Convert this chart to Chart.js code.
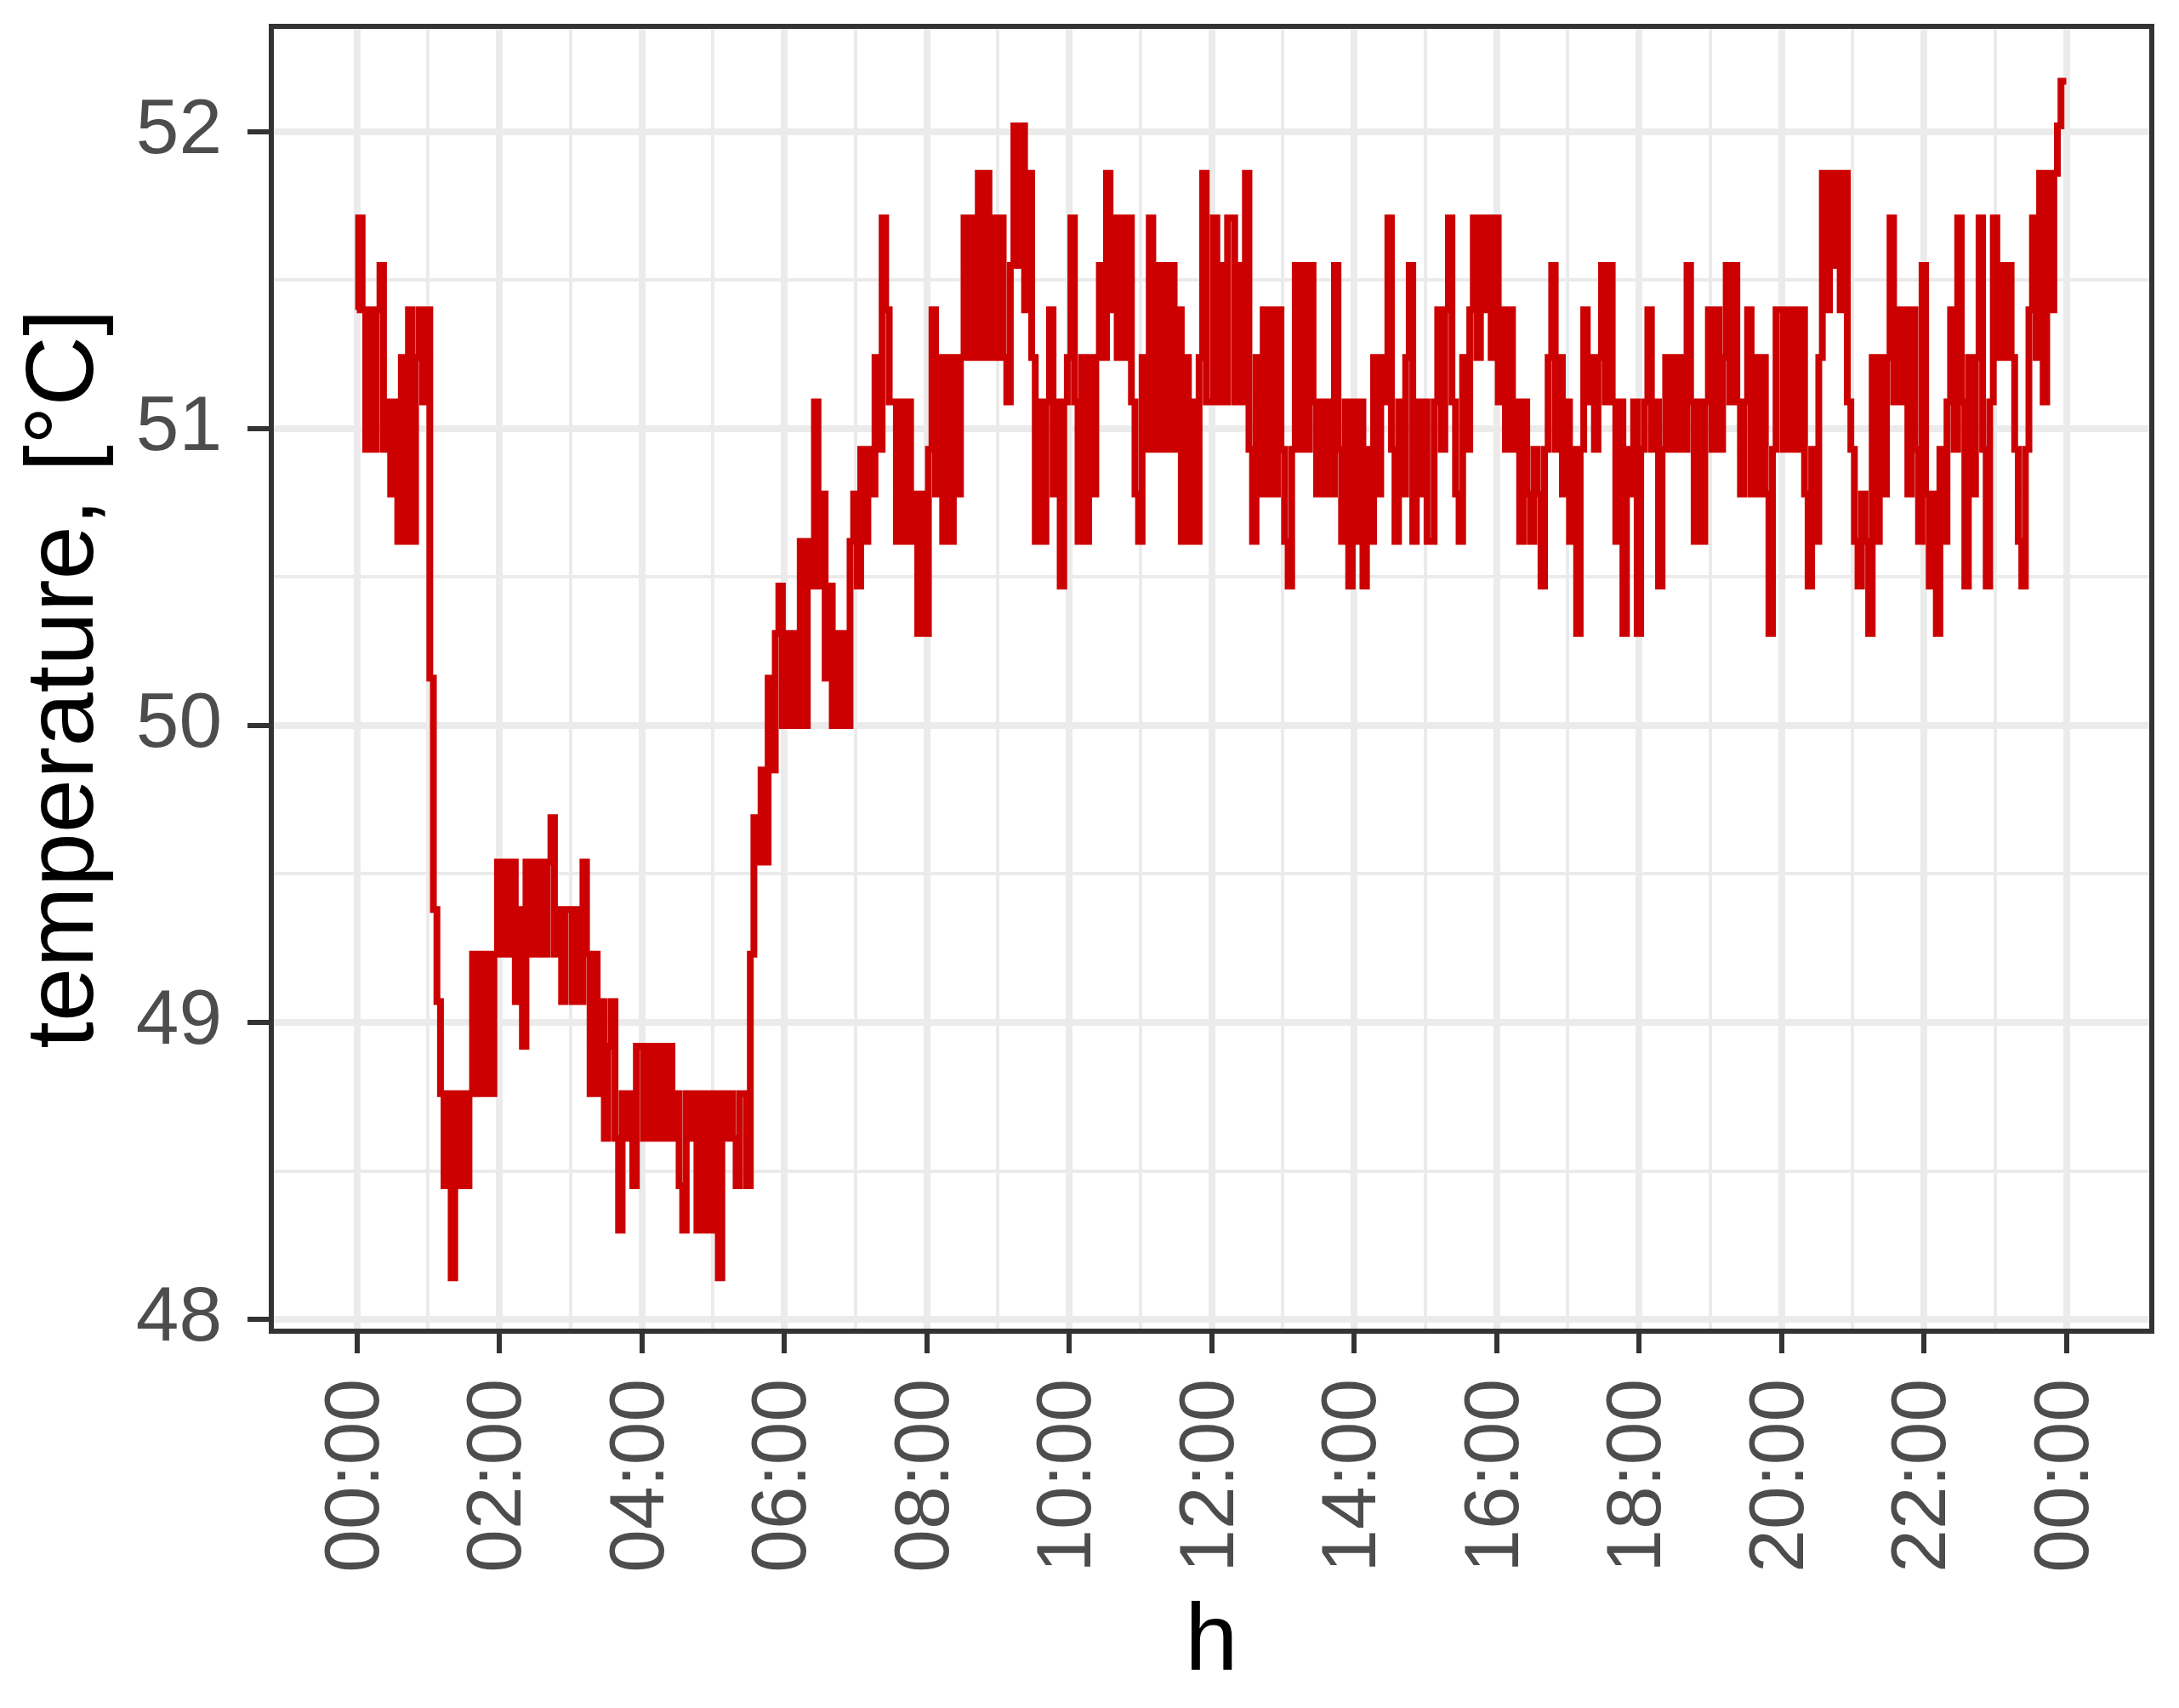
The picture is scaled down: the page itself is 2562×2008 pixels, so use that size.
<!DOCTYPE html>
<html>
<head>
<meta charset="utf-8">
<script src="https://cdn.jsdelivr.net/npm/chart.js@4.4.0/dist/chart.umd.min.js"></script>
<style>
  html, body { margin: 0; padding: 0; background: #fff; }
  #wrap { width: 2562px; height: 2008px; }
</style>
</head>
<body>
<div id="wrap"><canvas id="tempChart" width="2562" height="2008"></canvas></div>
<script>
// one reading every 3 minutes, 00:00 -> 24:00
const sampleMinutes = 3;

const temp00to06 = [
  51.40,51.71,51.40,50.93,51.40,50.93,51.40,51.55,50.93,51.09,50.78,51.09,50.62,51.24,50.62,51.40,50.62,51.24,51.40,51.09,
  51.40,50.16,49.38,49.07,48.76,48.45,48.76,48.14,48.76,48.45,48.76,48.45,48.76,49.23,48.76,49.23,48.76,49.23,48.76,49.23,
  49.54,49.23,49.54,49.23,49.54,49.07,49.38,48.92,49.54,49.23,49.54,49.23,49.54,49.23,49.54,49.69,49.23,49.38,49.07,49.38,
  49.38,49.07,49.38,49.07,49.54,49.23,48.76,49.23,48.76,49.07,48.61,48.92,49.07,48.61,48.30,48.76,48.61,48.76,48.45,48.92,
  48.92,48.61,48.92,48.61,48.92,48.61,48.92,48.61,48.92,48.61,48.76,48.45,48.30,48.76,48.61,48.76,48.30,48.76,48.30,48.76,
  48.30,48.76,48.14,48.76,48.61,48.76,48.61,48.45,48.76,48.76,48.45,49.23,49.69,49.54,49.85,49.54,50.16,49.85,50.31,50.47
];
const temp06to12 = [
  50.00,50.31,50.00,50.31,50.00,50.62,50.00,50.62,50.47,51.09,50.47,50.78,50.16,50.47,50.00,50.31,50.00,50.31,50.00,50.62,
  50.78,50.47,50.93,50.62,50.93,50.78,51.24,50.93,51.71,51.40,51.09,51.09,50.62,51.09,50.62,51.09,50.62,50.78,50.31,50.78,
  50.31,50.93,51.40,50.78,51.24,50.62,51.24,50.62,51.24,50.78,51.24,51.71,51.24,51.71,51.24,51.86,51.24,51.86,51.24,51.71,
  51.24,51.71,51.24,51.09,51.55,52.02,51.55,52.02,51.40,51.86,51.24,50.62,51.09,50.62,51.09,51.40,50.78,51.09,50.47,51.09,
  51.24,51.71,51.09,50.62,51.24,50.62,51.24,50.78,51.24,51.55,51.24,51.86,51.40,51.71,51.24,51.71,51.24,51.71,51.09,50.78,
  50.62,51.24,50.93,51.71,50.93,51.55,50.93,51.55,50.93,51.55,50.93,51.40,50.62,51.24,50.62,51.09,50.62,51.24,51.86,51.09
];
const temp12to18 = [
  51.09,51.71,51.09,51.55,51.09,51.71,51.71,51.09,51.55,51.09,51.86,50.93,50.62,51.24,50.78,51.40,50.78,51.40,50.78,51.40,
  50.93,50.62,50.47,50.93,51.55,50.93,51.55,50.93,51.55,51.09,50.78,51.09,50.78,51.09,50.78,51.55,50.93,50.62,51.09,50.47,
  51.09,50.62,51.09,50.47,50.93,50.62,51.24,50.78,51.24,51.09,51.71,50.93,50.62,51.09,50.78,51.24,51.55,50.62,51.09,50.78,
  51.09,50.62,50.62,51.09,51.40,50.93,51.40,51.71,51.09,50.78,50.62,51.24,50.93,51.40,51.71,51.24,51.71,51.40,51.71,51.24,
  51.71,51.09,51.40,50.93,51.40,50.93,51.09,50.62,51.09,50.78,50.62,50.93,50.78,50.47,50.93,51.24,51.55,50.93,51.24,50.78,
  51.09,50.62,50.93,50.31,50.93,51.40,51.09,51.24,50.93,51.24,51.55,51.09,51.55,51.09,50.62,51.09,50.31,50.93,50.78,51.09
];
const temp18to24 = [
  50.31,50.93,51.09,51.40,50.93,51.09,50.47,50.93,51.24,50.93,51.24,50.93,51.24,50.93,51.55,51.09,50.62,51.09,50.62,51.09,
  51.40,50.93,51.40,50.93,51.24,51.55,51.09,51.55,51.09,50.78,51.09,51.40,50.78,51.24,50.78,51.24,50.78,50.31,50.93,51.40,
  51.40,50.93,51.40,50.93,51.40,50.93,51.40,50.78,50.47,50.93,50.62,51.24,51.86,51.40,51.86,51.55,51.86,51.40,51.86,51.09,
  50.93,50.62,50.47,50.78,50.62,50.31,51.24,50.62,51.24,50.78,51.24,51.71,51.09,51.40,51.09,51.40,50.78,51.40,50.93,50.62,
  51.55,50.78,50.47,50.78,50.31,50.93,50.62,51.09,51.40,50.93,51.71,51.09,50.47,51.24,50.78,51.24,51.71,50.93,50.47,51.09,
  51.71,51.24,51.55,51.24,51.55,51.24,50.93,50.62,50.47,50.93,51.40,51.71,51.24,51.86,51.09,51.86,51.40,51.86,52.02,52.17,52.17
];

const xMajorHours = [0, 2, 4, 6, 8, 10, 12, 14, 16, 18, 20, 22, 24];
const xMajorLabels = ['00:00', '02:00', '04:00', '06:00', '08:00', '10:00', '12:00',
                      '14:00', '16:00', '18:00', '20:00', '22:00', '00:00'];
const xMinorHours = [1, 3, 5, 7, 9, 11, 13, 15, 17, 19, 21, 23];
const yMajorTicks = [48, 49, 50, 51, 52];
const yMinorTicks = [48.5, 49.5, 50.5, 51.5];

const temperature = [].concat(temp00to06, temp06to12, temp12to18, temp18to24);
const points = temperature.map((t, i) => ({ x: i * sampleMinutes / 60, y: t }));

const FONT = "'Liberation Sans', Arial, sans-serif";
const TICK_DARK = '#333333';
const GRID = '#EBEBEB';

const panelBorder = {
    id: 'panelBorder',
    afterDatasetsDraw(chart) {
        const { ctx, chartArea: a } = chart;
        ctx.save();
        ctx.strokeStyle = TICK_DARK;
        ctx.lineWidth = 6;
        ctx.strokeRect(a.left, a.top, a.right - a.left, a.bottom - a.top);
        ctx.restore();
    }
};

new Chart(document.getElementById('tempChart'), {
    type: 'line',
    data: {
        datasets: [{
            data: points,
            borderColor: '#CC0000',
            borderWidth: 8,
            borderJoinStyle: 'miter',
            stepped: 'middle',
            pointRadius: 0,
            tension: 0
        }]
    },
    options: {
        responsive: false,
        animation: false,
        parsing: false,
        layout: { padding: { left: 0, top: 31, right: 32, bottom: 0 } },
        plugins: { legend: { display: false }, tooltip: { enabled: false } },
        scales: {
            x: {
                type: 'linear', min: -1.2, max: 25.2,
                afterBuildTicks: s => {
                    s.ticks = xMajorHours.concat(xMinorHours).sort((a, b) => a - b).map(v => ({ value: v }));
                },
                afterFit: s => { s.height = 443; s.paddingLeft = 0; s.paddingRight = 0; },
                ticks: {
                    autoSkip: false, minRotation: 90, maxRotation: 90, padding: 30,
                    color: '#4D4D4D', font: { family: FONT, size: 91 },
                    callback: v => {
                        const i = xMajorHours.indexOf(v);
                        return i >= 0 ? xMajorLabels[i] : '';
                    }
                },
                grid: {
                    color: GRID,
                    lineWidth: c => xMajorHours.includes(c.tick.value) ? 8 : 4,
                    tickLength: 26, tickWidth: 6,
                    tickColor: c => xMajorHours.includes(c.tick.value) ? TICK_DARK : 'rgba(0,0,0,0)'
                },
                border: { display: false },
                title: {
                    display: true, text: 'h', color: '#000000',
                    font: { family: FONT, size: 112 }, padding: { top: 0, bottom: 9 }
                }
            },
            y: {
                type: 'linear', min: 47.96, max: 52.355,
                afterBuildTicks: s => {
                    s.ticks = yMajorTicks.concat(yMinorTicks).sort((a, b) => a - b).map(v => ({ value: v }));
                },
                afterFit: s => { s.width = 319; s.paddingTop = 0; s.paddingBottom = 0; },
                ticks: {
                    padding: 30, color: '#4D4D4D', font: { family: FONT, size: 91 },
                    callback: v => yMajorTicks.includes(v) ? String(v) : ''
                },
                grid: {
                    color: GRID,
                    lineWidth: c => yMajorTicks.includes(c.tick.value) ? 8 : 4,
                    tickLength: 28, tickWidth: 6,
                    tickColor: c => yMajorTicks.includes(c.tick.value) ? TICK_DARK : 'rgba(0,0,0,0)'
                },
                border: { display: false },
                title: {
                    display: true, text: 'temperature, [°C]', color: '#000000',
                    font: { family: FONT, size: 114 }, padding: { top: 9, bottom: 0 }
                }
            }
        }
    },
    plugins: [panelBorder]
});
</script>
</body>
</html>
